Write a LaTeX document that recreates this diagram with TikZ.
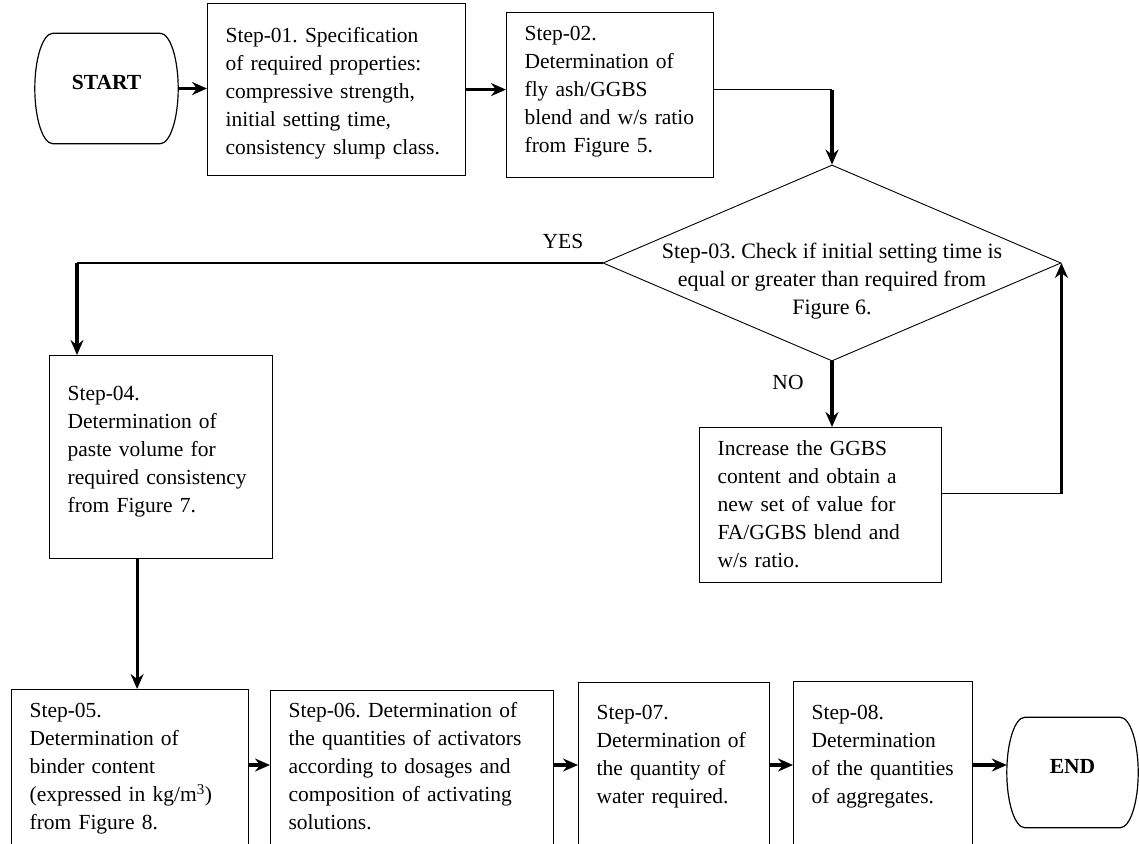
\documentclass[tikz,border=0pt]{standalone}
\usepackage{fontspec}
\setmainfont{Liberation Serif}
\usetikzlibrary{arrows.meta,shapes.geometric,calc}
\newcommand\flowfont{\fontsize{21.5}{28}\selectfont\frenchspacing}

\begin{document}
\begin{tikzpicture}[
  x=1pt, y=-1pt,
  every node/.style={font=\flowfont},
  stepbox/.style={draw,line width=1.2pt,anchor=north west,align=left,inner xsep=18pt,inner ysep=0pt},
  terminal/.style={minimum width=#1,minimum height=110pt,text depth=12pt,font=\flowfont\bfseries},
  decision/.style={draw,diamond,line width=0.9pt,minimum width=458pt,minimum height=196pt,inner sep=0pt},
  flow/.style={line width=3.2pt,-{Stealth[length=15pt,width=13pt,inset=5pt]}},
  link/.style={line width=1.4pt}
]
  \useasboundingbox (0,0) rectangle (1139,843);
  \clip (0,0) rectangle (1139,843);

  % top row
  \node[terminal=143pt] (start) at (106.5,88.5) {START};
  \node[stepbox,text width=222pt,text height=39pt,text depth=133pt] (s01) at (207,3)
    {Step-01. Specification\\ of required properties:\\ compressive strength,\\ initial setting time,\\ consistency slump class.};
  \node[stepbox,text width=171pt,text height=28pt,text depth=137pt] (s02) at (506,12)
    {Step-02.\\ Determination of\\ fly ash/GGBS\\ blend and w/s ratio\\ from Figure 5.};

  % check and loop
  \node[decision] (check) at (832,263) {};
  \node[align=center,font=\fontsize{22}{28}\selectfont\frenchspacing] (checktxt) at (832,281)
    {Step-03. Check if initial setting time is\\ equal or greater than required from\\ Figure 6.};
  \node[stepbox,text width=206pt,text height=28pt,text depth=127pt] (inc) at (699,427)
    {Increase the GGBS\\ content and obtain a\\ new set of value for\\ FA/GGBS blend and\\ w/s ratio.};
  \node (yes) at (563,241) {YES};
  \node (no) at (788,382) {NO};

  \node[stepbox,text width=187pt,text height=45pt,text depth=158pt] (s04) at (49,355)
    {Step-04.\\ Determination of\\ paste volume for\\ required consistency\\ from Figure 7.};

  % bottom row
  \node[stepbox,text width=201pt,text height=28pt,text depth=180pt] (s05) at (11,689)
    {Step-05.\\ Determination of\\ binder content\\ (expressed in kg/m\textsuperscript{3})\\ from Figure 8.};
  \node[stepbox,text width=247pt,text height=27pt,text depth=180pt] (s06) at (270,690)
    {Step-06. Determination of\\ the quantities of activators\\ according to dosages and\\ composition of activating\\ solutions.};
  \node[stepbox,text width=155pt,text height=37pt,text depth=190pt] (s07) at (578,682)
    {Step-07.\\ Determination of\\ the quantity of\\ water required.};
  \node[stepbox,text width=143pt,text height=38pt,text depth=190pt] (s08) at (793,681)
    {Step-08.\\ Determination\\ of the quantities\\ of aggregates.};
  \node[terminal=131pt] (stop) at (1072.5,772.5) {END};

  % terminal outlines
  \foreach \t in {start,stop}
    \draw[line width=1.2pt] ([xshift=18pt]\t.north west) -- ([xshift=-18pt]\t.north east)
      .. controls ([xshift=-8pt]\t.north east) and ([yshift=30pt]\t.east) .. (\t.east)
      .. controls ([yshift=-30pt]\t.east) and ([xshift=-8pt]\t.south east) .. ([xshift=-18pt]\t.south east)
      -- ([xshift=18pt]\t.south west)
      .. controls ([xshift=8pt]\t.south west) and ([yshift=-30pt]\t.west) .. (\t.west)
      .. controls ([yshift=30pt]\t.west) and ([xshift=8pt]\t.north west) .. ([xshift=18pt]\t.north west)
      -- cycle;

  % connectors
  \draw[flow] (start.east) -- (start.east -| s01.west);
  \draw[flow] (s01.east) -- (s01.east -| s02.west);
  \coordinate (turn1) at (s01.east -| check.north);
  \draw[link] (s01.east -| s02.east) -- (turn1);
  \draw[flow] (turn1) -- (check.north);

  \coordinate (turn2) at ($(check.west -| s04.north west)+(28,0)$);
  \draw[link] (check.west) -- (turn2);
  \draw[flow] (turn2) -- (turn2 |- s04.north);

  \draw[flow] (check.south) -- (check.south |- inc.north);
  \coordinate (turn3) at ([yshift=11.5pt]inc.east -| check.east);
  \draw[link] ([yshift=11.5pt]inc.east) -- (turn3);
  \draw[flow] (turn3) -- (check.east);

  \draw[flow] ([xshift=-24pt]s04.south) -- ([xshift=-24pt]s04.south |- s05.north);

  \coordinate (row) at (0,765);
  \foreach \a/\b in {s05/s06,s06/s07,s07/s08,s08/stop}
    \draw[flow] (\a.east |- row) -- (\b.west |- row);
\end{tikzpicture}
\end{document}
